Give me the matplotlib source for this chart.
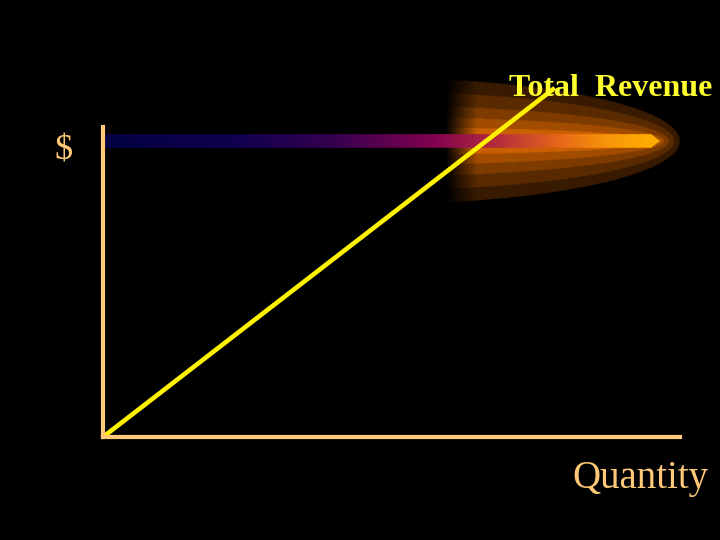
import numpy as np
import matplotlib.pyplot as plt
from matplotlib.colors import LinearSegmentedColormap
from matplotlib.patches import Polygon

# chart data
quantity = [0, 7.83]
total_revenue = [0, 11.26]
x_label = "Quantity"
y_label = "$"
line_label = "Total  Revenue"

axis_col = "#FFC978"
line_col = "#FFF200"

fig = plt.figure(figsize=(7.2, 5.4), dpi=100, facecolor="black")
ax = fig.add_axes([103 / 720, 103 / 540, 577 / 720, 310 / 540])
ax.set_facecolor("black")
ax.set_xlim(0, 10)
ax.set_ylim(0, 10)

# glow behind the label: stacked half-ellipses, fading out on the left
gx = np.linspace(5.8, 10.1, 400)
gy = np.linspace(7.2, 11.9, 220)
GX, GY = np.meshgrid(gx, gy)
cx, cy = 4.6, 9.55
right_edges = [9.98, 9.88, 9.79, 9.71, 9.64]
half_heights = [2.05, 1.6, 1.15, 0.78, 0.45]
shades = [0.2, 0.32, 0.45, 0.58, 0.72]
b = np.zeros(GX.shape)
for xe, hh, s in zip(right_edges, half_heights, shades):
    inside = ((GX - cx) / (xe - cx)) ** 2 + ((GY - cy) / hh) ** 2 <= 1
    b[inside] = s
fade = np.clip((GX - 5.93) / 0.55, 0, 1)
b = b * fade
glow = np.zeros(GX.shape + (3,))
glow[..., 0] = np.clip(b * 1.1, 0, 1)
glow[..., 1] = b * 0.52
im = ax.imshow(glow, extent=(gx[0], gx[-1], gy[0], gy[-1]), origin="lower",
               aspect="auto", interpolation="bilinear", zorder=1)
im.set_clip_on(False)

# gradient bar at the top with a pointed tip
bar_cmap = LinearSegmentedColormap.from_list("bar", [
    (0.0, "#000000"), (0.05, "#000040"), (0.3, "#10004F"), (0.46, "#35004F"),
    (0.625, "#800050"), (0.74, "#B8303A"), (0.84, "#E86A18"), (0.92, "#F89808"),
    (1.0, "#FFB000")])
grad = np.linspace(0, 1, 400).reshape(1, -1)
x0, x1, y0, y1 = -0.85, 9.65, 9.33, 9.77
bar = ax.imshow(grad, cmap=bar_cmap, extent=(x0, x1, y0, y1),
                aspect="auto", interpolation="bilinear", zorder=2)
tip = Polygon([(x0, y0), (x1 - 0.15, y0), (x1, (y0 + y1) / 2),
               (x1 - 0.15, y1), (x0, y1)], closed=True,
              transform=ax.transData, facecolor="none", edgecolor="none")
bar.set_clip_path(tip)

# total revenue line
ax.plot(quantity, total_revenue, color=line_col, lw=3.3,
        solid_capstyle="butt", clip_on=False, zorder=3)

for s in ["top", "right"]:
    ax.spines[s].set_visible(False)
for s in ["left", "bottom"]:
    ax.spines[s].set_color(axis_col)
    ax.spines[s].set_linewidth(3)
    ax.spines[s].set_zorder(4)
ax.set_xticks([])
ax.set_yticks([])

fig.text(712 / 720, (540 - 96) / 540, line_label, color="#FFFF30",
         fontfamily="Liberation Serif", fontweight="bold", fontsize=23,
         ha="right", va="baseline")
fig.text(54 / 720, (540 - 160) / 540, y_label, color=axis_col,
         fontfamily="Liberation Serif", fontsize=26, ha="left", va="baseline")
fig.text(708 / 720, (540 - 488) / 540, x_label, color=axis_col,
         fontfamily="Liberation Serif", fontsize=28, ha="right", va="baseline")

fig.savefig("out.png", dpi=100, facecolor="black")
